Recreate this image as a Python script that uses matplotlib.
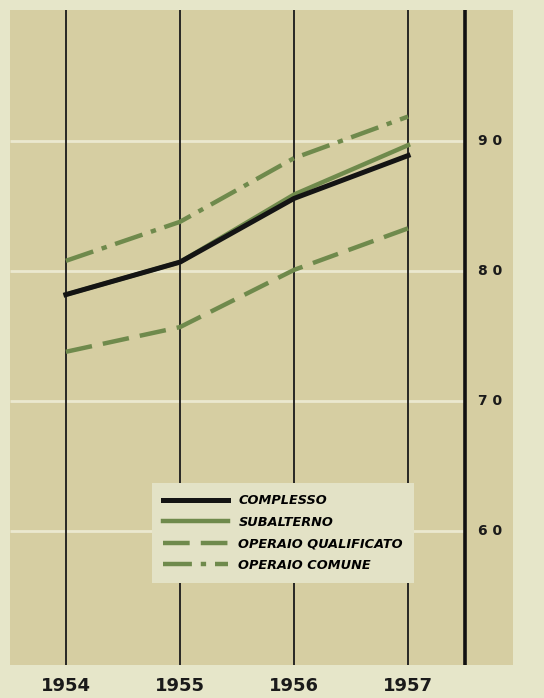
import matplotlib.pyplot as plt

# Dati
anni = [1954, 1955, 1956, 1957]
complesso = [78.2, 80.7, 85.6, 88.9]
subalterno = [78.2, 80.7, 85.9, 89.7]
operaio_qualificato = [73.8, 75.7, 80.1, 83.3]
operaio_comune = [80.8, 83.8, 88.7, 91.9]
livelli = [60, 70, 80, 90]

verde = '#6f8a4c'
sfondo = '#e6e6c9'
pannello = '#d6cea2'

fig = plt.figure(figsize=(5.44, 6.98), dpi=100, facecolor=sfondo)
ax = fig.add_axes([10/544, 33/698, 503/544, 655/698])
ax.set_facecolor(pannello)
ax.set_xlim(1953.51, 1957.92)
ax.set_ylim(49.7, 100.1)
for s in ax.spines.values():
    s.set_visible(False)
ax.set_xticks([])
ax.set_yticks([])

# Linee di riferimento orizzontali e verticali
ax.hlines(livelli, 1953.51, 1957.5, color='#ebe8cf', lw=2, zorder=1)
for a in anni:
    ax.axvline(a, color='#1a1a1a', lw=1.3, zorder=2)
ax.axvline(1957.5, color='#111111', lw=2.6, zorder=2)

for v in livelli:
    ax.text(1957.72, v, ' '.join(str(v)), ha='center', va='center',
            fontsize=10, fontweight='bold', color='#1a1a1a')

for a in anni:
    fig.text((66 + (a - 1954) * 114) / 544, 1 - 686/698, str(a), ha='center', va='center',
             fontsize=13, fontweight='bold', color='#1a1a1a')

# Serie
ax.plot(anni, subalterno, color=verde, lw=3.2, label='SUBALTERNO', zorder=3)
ax.plot(anni, operaio_qualificato, color=verde, lw=3.2, dashes=(6, 2.5),
        label='OPERAIO QUALIFICATO', zorder=4)
ax.plot(anni, operaio_comune, color=verde, lw=3.2, dashes=(6.5, 2, 1.2, 2),
        label='OPERAIO COMUNE', zorder=4)
ax.plot(anni, complesso, color='#141414', lw=3.6, label='COMPLESSO', zorder=3.5)

h, l = ax.get_legend_handles_labels()
ordine = [3, 0, 1, 2]
leg = ax.legend([h[i] for i in ordine], [l[i] for i in ordine],
                loc='upper left', bbox_to_anchor=(146/544, 1 - 477/698),
                bbox_transform=fig.transFigure, frameon=True, fancybox=False,
                facecolor='#e3e2c6', edgecolor='none', framealpha=1,
                handlelength=5.0, handletextpad=0.8, labelspacing=0.65,
                borderpad=0.85, prop={'size': 9.3, 'weight': 'bold', 'style': 'italic'})
leg.set_zorder(6)

fig.savefig('out.png', dpi=100, facecolor=sfondo)
